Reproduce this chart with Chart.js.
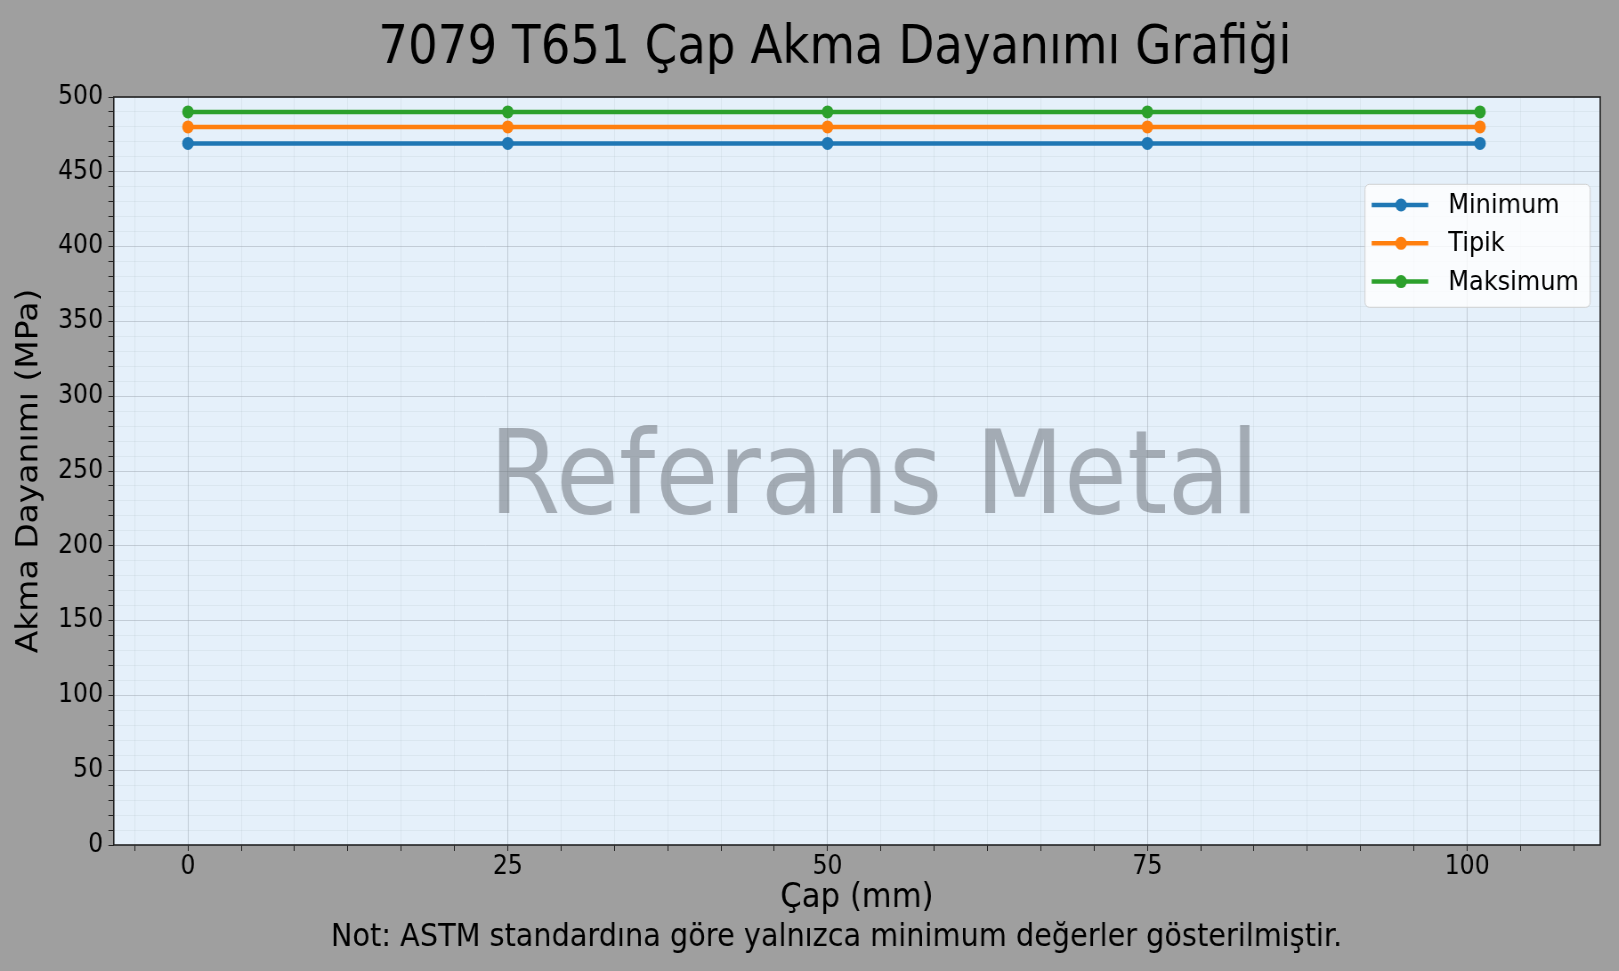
<!DOCTYPE html>
<html lang="tr">
<head>
<meta charset="utf-8">
<title>7079 T651 Çap Akma Dayanımı Grafiği</title>
<script src="https://cdn.jsdelivr.net/npm/chart.js@4.4.1/dist/chart.umd.min.js"></script>
<style>
    html, body { margin: 0; padding: 0; overflow: hidden; background: #9f9f9f; }
    /* the reference is squeezed horizontally, so draw wide and scale down */
    #wrap { width: 1819px; height: 971px; transform: scaleX(0.89); transform-origin: 0 0; }
</style>
</head>
<body>
<div id="wrap"><canvas id="yieldChart"></canvas></div>
<script>
// Chart data
const diameters = [0, 25, 50, 75, 101];
const minimumValues = [469, 469, 469, 469, 469];
const typicalValues = [480, 480, 480, 480, 480];
const maximumValues = [490, 490, 490, 490, 490];
const seriesLabels = ['Minimum', 'Tipik', 'Maksimum'];
const seriesColors = ['#1f77b4', '#ff7f0e', '#2ca02c'];

// Axis ticks
const xMajorTicks = [0, 25, 50, 75, 100];
const yMajorTicks = [0, 50, 100, 150, 200, 250, 300, 350, 400, 450, 500];
const xMinorStep = 25 / 6;
const yMinorStep = 10;
const xRange = [-5.8, 110.4];
const yRange = [0, 500];

const FONT = '"DejaVu Sans", "Liberation Sans", sans-serif';
const TEXT = '#000000';

function isMajor(v, majors) {
    return majors.some(m => Math.abs(m - v) < 1e-6);
}

// Minor + major tick positions across the visible range
function buildTicks(min, max, step) {
    const ticks = [];
    for (let k = Math.ceil(min / step - 1e-9); k * step <= max + 1e-9; k++) {
        ticks.push({ value: Math.round(k * step * 1e6) / 1e6 });
    }
    return ticks;
}

function gridColor(majors) {
    return ctx => isMajor(ctx.tick.value, majors)
        ? 'rgba(150, 160, 170, 0.45)'
        : 'rgba(150, 160, 170, 0.13)';
}

function toPoints(values) {
    return diameters.map((x, i) => ({ x: x, y: values[i] }));
}

function makeDataset(label, values, color) {
    return {
        label: label,
        data: toPoints(values),
        borderColor: color,
        backgroundColor: color,
        borderWidth: 4.5,
        pointRadius: 6.5,
        pointBorderWidth: 0,
        pointBackgroundColor: color,
        tension: 0
    };
}

// Background, watermark, frame, legend and texts
const decorPlugin = {
    id: 'decor',
    beforeDraw(chart) {
        const { ctx, chartArea: a } = chart;
        ctx.save();
        ctx.fillStyle = '#9f9f9f';
        ctx.fillRect(0, 0, chart.width, chart.height);
        ctx.fillStyle = '#e5f0fa';
        ctx.fillRect(a.left, a.top, a.right - a.left, a.bottom - a.top);
        ctx.restore();
    },
    beforeDatasetsDraw(chart) {
        const { ctx } = chart;
        ctx.save();
        ctx.font = '115.5px ' + FONT;
        ctx.fillStyle = 'rgba(110, 115, 122, 0.55)';
        ctx.textAlign = 'center';
        ctx.textBaseline = 'alphabetic';
        ctx.fillText('Referans Metal', 982, 513);
        ctx.restore();
    },
    afterDraw(chart) {
        const { ctx, chartArea: a } = chart;
        ctx.save();

        // frame
        ctx.strokeStyle = '#222222';
        ctx.lineWidth = 1.6;
        ctx.strokeRect(a.left, a.top, a.right - a.left, a.bottom - a.top);

        // title and note
        ctx.fillStyle = TEXT;
        ctx.textAlign = 'center';
        ctx.textBaseline = 'alphabetic';
        ctx.font = '52.5px ' + FONT;
        ctx.fillText('7079 T651 Çap Akma Dayanımı Grafiği', 938, 62.5);
        ctx.font = '32.3px ' + FONT;
        ctx.fillText('Not: ASTM standardına göre yalnızca minimum değerler gösterilmiştir.', 940, 946);

        // legend box
        const boxW = 253, boxH = 123;
        const bx = a.right - 11.3 - boxW;
        const by = a.top + 87.3;
        ctx.beginPath();
        ctx.roundRect(bx, by, boxW, boxH, 5);
        ctx.fillStyle = 'rgba(255, 255, 255, 0.8)';
        ctx.fill();
        ctx.strokeStyle = 'rgba(204, 204, 204, 0.9)';
        ctx.lineWidth = 1;
        ctx.stroke();

        ctx.font = '27px ' + FONT;
        ctx.textAlign = 'left';
        ctx.textBaseline = 'middle';
        chart.data.datasets.forEach((ds, i) => {
            const y = by + 20.7 + i * 38.3;
            ctx.strokeStyle = ds.borderColor;
            ctx.lineWidth = 4.5;
            ctx.beginPath();
            ctx.moveTo(bx + 7.5, y);
            ctx.lineTo(bx + 71, y);
            ctx.stroke();
            ctx.fillStyle = ds.borderColor;
            ctx.beginPath();
            ctx.arc(bx + 40.5, y, 6.5, 0, Math.PI * 2);
            ctx.fill();
            ctx.fillStyle = TEXT;
            ctx.fillText(ds.label, bx + 93.6, y + 1);
        });
        ctx.restore();
    }
};

const ctx = document.getElementById('yieldChart');

new Chart(ctx, {
    type: 'line',
    data: {
        datasets: [
            makeDataset(seriesLabels[0], minimumValues, seriesColors[0]),
            makeDataset(seriesLabels[1], typicalValues, seriesColors[1]),
            makeDataset(seriesLabels[2], maximumValues, seriesColors[2])
        ]
    },
    options: {
        responsive: true,
        maintainAspectRatio: false,
        animation: false,
        devicePixelRatio: 1,
        layout: { padding: { top: 97, right: 21, bottom: 52, left: 0 } },
        plugins: {
            legend: { display: false },
            tooltip: { enabled: false },
            title: { display: false }
        },
        scales: {
            x: {
                type: 'linear',
                min: xRange[0],
                max: xRange[1],
                afterBuildTicks: scale => { scale.ticks = buildTicks(xRange[0], xRange[1], xMinorStep); },
                afterFit: scale => { scale.height = 74; },
                ticks: {
                    autoSkip: false,
                    maxRotation: 0,
                    padding: 3,
                    color: TEXT,
                    font: { family: FONT, size: 26.5, lineHeight: 1 },
                    callback: v => isMajor(v, xMajorTicks) ? String(Math.round(v)) : ''
                },
                grid: {
                    color: gridColor(xMajorTicks),
                    lineWidth: 1,
                    tickLength: 6,
                    tickColor: '#222222'
                },
                border: { display: false },
                title: {
                    display: true,
                    text: 'Çap (mm)',
                    color: TEXT,
                    font: { family: FONT, size: 34.5, lineHeight: 1.2 },
                    padding: { top: 0, bottom: 0 }
                }
            },
            y: {
                min: yRange[0],
                max: yRange[1],
                afterBuildTicks: scale => { scale.ticks = buildTicks(yRange[0], yRange[1], yMinorStep); },
                afterFit: scale => { scale.width = 127.8; },
                ticks: {
                    autoSkip: false,
                    padding: 6,
                    color: TEXT,
                    font: { family: FONT, size: 26.5, lineHeight: 1 },
                    callback: v => isMajor(v, yMajorTicks) ? String(Math.round(v)) : ''
                },
                grid: {
                    color: gridColor(yMajorTicks),
                    lineWidth: 1,
                    tickLength: 6,
                    tickColor: '#222222'
                },
                border: { display: false },
                title: {
                    display: true,
                    text: 'Akma Dayanımı (MPa)',
                    color: TEXT,
                    font: { family: FONT, size: 33, lineHeight: 1.2 },
                    padding: { top: 13.2, bottom: 0 }
                }
            }
        }
    },
    plugins: [decorPlugin]
});
</script>
</body>
</html>
